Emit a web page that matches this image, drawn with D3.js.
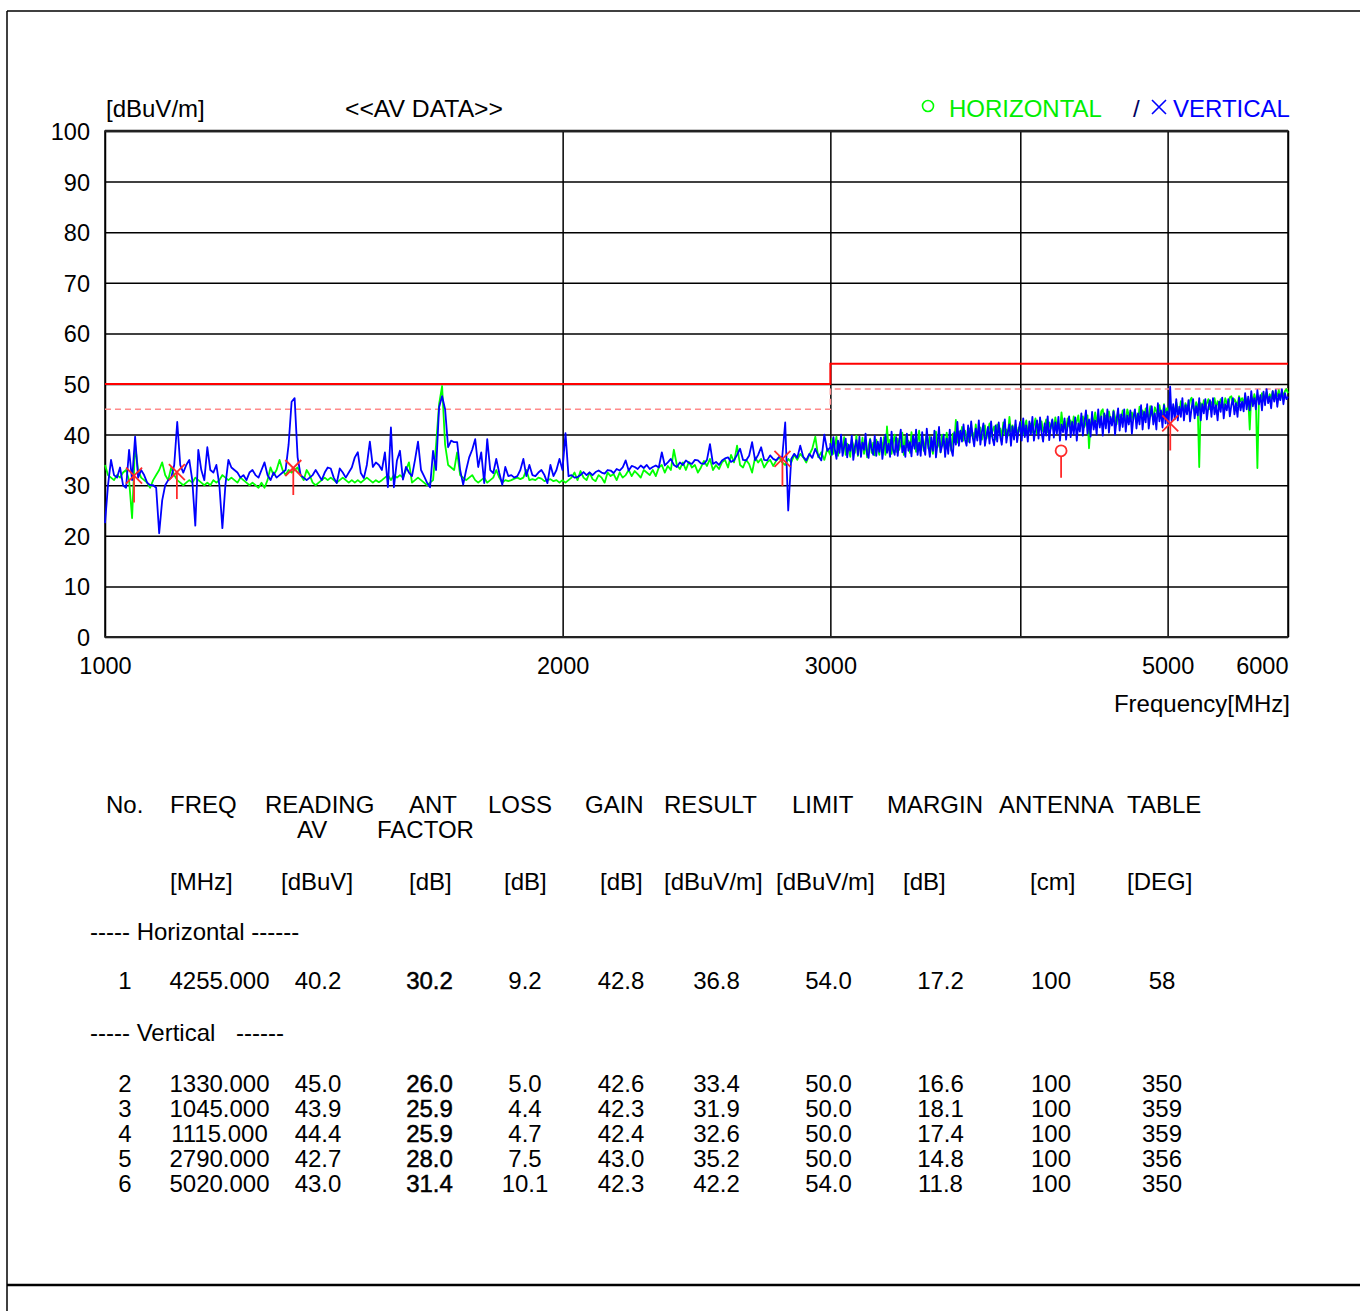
<!DOCTYPE html>
<html><head><meta charset="utf-8">
<script src="https://cdn.jsdelivr.net/npm/d3@7"></script>
<style>
html,body{margin:0;padding:0;background:#fff;}
svg{display:block;}
</style></head><body>
<svg id="chart" width="1360" height="1311"></svg>
<script>
// ---------------- DATA ----------------
const yTicks = [0,10,20,30,40,50,60,70,80,90,100];
const xTicks = [1000,2000,3000,4000,5000,6000];
const xTickLabels = ['1000','2000','3000','','5000','6000'];

// two sweeps: log-spaced points 1000-3000 MHz and 3000-6000 MHz (one value per point)
const lowSweep  = [1000, 3000];
const highSweep = [3000, 6000];

// HORIZONTAL (green) average levels, dBuV/m, 1000-3000 MHz
const horizontalLow = [
34,32,31.5,31,32,31.5,32.5,33,31,23.5,
38,33,31.5,31,30.5,29.5,31,32,33,34.5,
32,31,33.5,32,31,30.5,30,30.5,31,30.5,
31.5,31,30.5,30,30.5,30,31,30.5,31,32,
31.5,31,31.5,31,30.5,31.5,31,30.5,30,30.5,
30,29.5,30.5,29.5,31,33.5,32,33,35,33,
32,33,32.5,33,33.5,32,31,33,32,30.5,
30,30.5,31,31.5,31,31.5,31,30.5,31,31.5,
31,30.5,31,30.5,31,30.5,31,31.5,31,30.5,
31,30.6,31,31.5,32,31,32,31.5,32,31.5,
33,34.5,30.5,31,31.5,31,30.5,30,30.5,31,
38,46,49.6,38,34,33.5,33,36.5,32,31.5,
31,31.5,32,31,30.5,31,31.5,30.5,31,31.5,
33,31.5,30.5,31,30.8,31,31.3,31.5,31.2,31.5,
33,31,31.2,31,31.5,31.3,30.8,31,31.2,30.8,
31,30.5,31,30.5,31,31.5,32.5,31,32.8,31.5,
31,32.5,31.2,30.8,32,31.5,30.5,32.5,31.8,32.2,
31,32.5,31.5,32,33,31.8,32.8,32.2,31.5,33,
32.5,32,33,31.8,33.5,34,32.5,33.8,33,37,
34,33.2,34.5,33,34.6,33.5,34,32.5,33.5,34.8,
33.8,35.2,33,34,33.2,34.5,35,33.5,36,34.5,
37.8,34,33.5,35,34.2,32.5,35.5,34.5,35.2,33.5,
34.5,35,33.8,34.8,35.5,34.5,34,35.2,34.5,36,
35,36.2,35.5,34.5,36,37.2,39.6,35.5,36.5,35,
37.2,36
];
// HORIZONTAL (green), 3000-6000 MHz
const horizontalHigh = [
37.0,39.2,36.2,38.0,39.6,35.8,37.4,38.8,36.5,39.5,
36.0,38.2,37.2,35.6,39.0,37.8,36.4,39.8,35.8,38.0,
37.0,39.4,36.2,38.6,35.5,37.8,39.2,36.4,38.4,35.9,
39.0,37.2,36.0,38.8,37.4,39.5,36.0,41.6,37.5,39.0,
36.2,38.5,40.0,36.6,39.2,37.0,38.2,40.4,36.0,39.6,
37.5,38.8,36.4,40.5,37.8,39.0,36.6,38.5,40.8,37.0,
39.2,36.8,38.6,40.2,37.2,39.6,37.8,36.2,39.0,40.6,
37.5,38.8,36.5,40.0,38.2,37.0,40.4,37.6,38.8,36.8,
40.2,38.5,42.9,38.4,40.6,39.2,41.5,38.8,40.8,39.5,
38.6,41.2,39.8,40.4,38.8,42.0,39.4,40.6,41.4,39.0,
40.2,41.8,39.2,40.8,42.2,39.6,40.8,41.6,39.0,42.0,
40.4,41.2,39.5,42.4,40.0,41.0,39.8,43.5,40.6,41.8,
40.2,42.0,39.8,41.4,40.6,42.6,40.0,41.5,42.8,39.8,
41.2,42.2,40.4,41.8,43.2,40.2,42.0,41.0,42.6,40.6,
41.6,43.0,40.5,42.4,41.2,42.8,40.8,43.4,41.5,42.2,
40.6,44.4,41.8,42.6,40.8,43.2,41.6,42.8,41.0,43.6,
41.8,42.6,43.8,41.2,42.8,43.6,41.5,42.4,43.8,37.3,
42.0,43.6,41.8,44.4,42.6,43.2,41.9,44.6,45.0,42.4,
43.8,42.6,44.6,43.0,42.2,44.8,43.4,42.0,44.2,43.6,
42.8,44.8,43.2,42.6,45.0,43.8,42.6,44.4,43.0,44.6,
43.4,42.8,45.5,43.6,44.8,43.0,45.2,44.0,43.4,45.6,
44.0,43.2,45.4,44.6,43.6,45.8,44.2,43.8,46.0,44.4,
45.2,43.8,46.2,44.6,45.4,44.2,46.4,45.0,44.4,46.6,
45.0,44.6,46.2,45.4,44.8,46.8,47.3,45.2,44.8,46.4,
45.6,33.6,46.2,45.0,46.8,45.4,46.2,47.0,45.0,46.4,
45.8,47.2,45.2,46.6,45.6,47.0,46.0,45.4,47.2,46.2,
45.8,47.4,47.6,46.0,47.0,46.4,45.8,47.6,46.6,47.2,
46.0,47.8,46.4,47.0,41.0,47.6,46.2,48.0,46.8,33.4,
47.2,46.6,48.2,46.8,47.6,48.4,46.6,48.0,47.2,48.6,
46.8,48.2,47.6,48.8,47.0,48.4,47.8,48.6,49.0,48.2
];

// VERTICAL (blue) average levels, dBuV/m, 1000-3000 MHz
const verticalLow = [
22.5,30,35,32,31.5,33.5,30,29.5,37,31,
39.6,31.5,33,32,30.5,30,30,29.5,20.5,27,
30,31,31.5,34,42.5,34,32.5,34,35,31,
22,37,33,31,37.5,33,32.5,34,30,21.5,
30,35,33.5,33,32.5,31.5,32,31,32.5,33,
32,31.5,33,34.5,32,31,32.5,31.5,32,32.5,
33,38,46.5,47.2,35.5,32,31.5,31,31.5,32,
33,32,31,32.5,33.5,33.3,31.5,30.4,33.3,32.5,
31.5,32.5,33.5,35.5,36.5,32.4,31.4,34,38.6,33.6,
34.5,34,33,36.5,29.6,41.4,29.6,34.9,36.8,31.1,
33.6,32.5,31.8,35,38.6,33,31.8,30.5,29.6,36.8,
33,45.4,47.6,45,37.5,38.8,38.5,38.5,33,30.1,
33,35.5,37,39.1,33.6,36.5,30.4,39.1,33,32.4,
35.2,32.4,30.1,33.6,31.8,32,31.5,31.8,33,35.2,
31.8,34,32,31.8,32.5,33,32,30.4,34,31.8,
33,35.2,33,40.3,31.8,32,31.5,31.6,32,32.6,
32,32.5,32,32.6,32.9,32.5,32.3,33,32.9,32.4,
33.2,32.9,33.5,34.9,32.9,33.8,33.6,33.2,33.9,33.4,
34,33.2,33.6,33.9,33.5,36.5,33.9,34.5,35.2,34,
33.6,34.5,34,34.9,34.4,34.2,35,34.9,34.3,34.2,
35,38.1,34.2,34.6,34,34.9,35.3,35.5,34.6,34.9,
36,37.2,35,34.9,35.8,38.5,34.9,36,37.5,35,
34.9,35.9,35.2,34.9,35.6,35.5,42.4,25,35.2,36.2,
35.4,37.8,35.6,34.9,36.2,35.4,37.2,35.8,34.9,40,
36.8,37.5
];
// VERTICAL (blue), 3000-6000 MHz
const verticalHigh = [
38.2,36.0,39.5,37.0,35.2,38.8,36.4,40.0,35.8,37.6,
39.2,35.5,38.0,36.8,39.8,35.0,37.5,38.9,36.0,39.6,
35.6,38.4,37.0,40.2,36.2,35.4,39.0,37.2,36.0,39.8,
35.8,38.6,36.6,39.4,35.2,37.8,40.0,36.4,38.2,35.6,
40.6,37.0,36.0,39.5,35.8,38.8,41.0,36.5,37.8,35.6,
40.2,36.8,38.5,35.7,39.8,37.2,41.0,36.0,38.4,35.8,
40.5,37.5,36.0,41.2,38.0,35.6,39.5,36.8,40.8,35.5,
38.2,41.5,36.5,37.8,40.0,35.6,39.2,36.2,41.0,37.0,
35.8,40.5,38.0,42.5,37.8,40.8,38.6,42.0,39.0,37.8,
41.8,38.4,42.6,39.5,37.7,41.2,38.8,42.8,38.0,40.5,
42.2,37.8,39.8,41.5,38.2,42.6,39.2,37.9,41.8,38.6,
42.4,39.6,38.0,41.2,43.0,38.4,40.6,42.0,37.8,41.6,
39.0,42.8,38.5,40.8,42.5,38.8,43.2,39.5,41.8,38.6,
42.6,40.0,43.5,38.8,41.2,42.8,39.2,43.4,40.4,38.6,
42.2,39.8,43.6,38.9,41.5,43.0,39.4,42.4,40.2,43.5,
38.8,42.0,40.5,43.2,39.0,41.8,43.6,39.5,42.5,40.0,
43.4,38.8,42.2,40.6,44.2,39.8,42.5,44.8,40.2,43.0,
39.6,44.5,41.0,42.8,40.0,45.0,41.4,43.6,39.8,44.2,
41.2,45.0,40.4,43.5,41.8,44.6,40.0,43.0,45.2,40.8,
44.0,41.5,45.0,40.6,43.8,42.0,44.8,40.2,43.5,45.0,
41.2,44.2,42.0,45.8,41.0,44.5,42.4,46.0,41.2,43.8,
45.6,42.0,44.2,41.0,46.2,42.6,44.8,41.4,45.8,42.2,
44.6,41.8,49.5,42.6,46.0,43.0,47.0,42.8,45.5,43.5,
47.2,42.8,45.8,44.0,46.8,42.6,45.2,47.0,43.2,45.6,
43.8,47.2,42.8,46.0,44.2,47.0,43.0,45.5,46.8,43.5,
47.2,44.0,45.8,42.8,46.5,44.5,47.3,43.2,46.0,44.8,
47.0,43.6,45.8,47.2,44.0,46.2,43.5,47.3,44.8,46.5,
44.6,48.2,45.0,47.5,44.8,48.6,45.6,47.2,45.0,48.8,
46.0,47.8,44.8,48.5,45.8,49.0,46.2,47.5,45.2,48.6,
46.5,48.8,45.5,48.0,46.8,49.0,46.0,48.2,47.0,47.5
];

// limit lines
const limitFreq  = [1000, 3000, 3000, 6000];
const limitLevel = [50, 50, 54, 54];
const marginLevel = [45, 45, 49, 49];

// markers / table rows
const markerNo   = [1, 2, 3, 4, 5, 6];
const markerPol  = ['H','V','V','V','V','V'];
const markerFreq = [4255, 1330, 1045, 1115, 2790, 5020];
const tableFreq    = ['4255.000','1330.000','1045.000','1115.000','2790.000','5020.000'];
const tableReading = ['40.2','45.0','43.9','44.4','42.7','43.0'];
const tableAnt     = ['30.2','26.0','25.9','25.9','28.0','31.4'];
const tableLoss    = ['9.2','5.0','4.4','4.7','7.5','10.1'];
const tableGain    = ['42.8','42.6','42.3','42.4','43.0','42.3'];
const tableResult  = ['36.8','33.4','31.9','32.6','35.2','42.2'];
const tableLimit   = ['54.0','50.0','50.0','50.0','50.0','54.0'];
const tableMargin  = ['17.2','16.6','18.1','17.4','14.8','11.8'];
const tableAntenna = ['100','100','100','100','100','100'];
const tableDeg     = ['58','350','359','359','356','350'];

// ---------------- DRAW ----------------
const FONT = '"Liberation Sans", Arial, Helvetica, sans-serif';
const FS = 24, FST = 23.5;
const svg = d3.select('#chart');
const M = {left:105, right:1288, top:131, bottom:637};
const x = d3.scaleLog().domain([1000, 6000]).range([M.left, M.right]);
const y = d3.scaleLinear().domain([0, 100]).range([M.bottom, M.top]);

function txt(g, s, px, py, opt = {}) {
  return g.append('text').attr('x', px).attr('y', py)
    .attr('font-family', FONT).attr('font-size', opt.size || FS)
    .attr('fill', opt.fill || '#000')
    .attr('text-anchor', opt.anchor || 'start')
    .text(s);
}

// page border
svg.append('line').attr('x1',7).attr('y1',11).attr('x2',1360).attr('y2',11).attr('stroke','#000').attr('stroke-width',1.5);
svg.append('line').attr('x1',7).attr('y1',11).attr('x2',7).attr('y2',1311).attr('stroke','#000').attr('stroke-width',1.5);
svg.append('line').attr('x1',7).attr('y1',1285).attr('x2',1360).attr('y2',1285).attr('stroke','#000').attr('stroke-width',2.5);

// y grid + labels
const gy = svg.append('g').attr('transform', `translate(${M.left},0)`)
  .call(d3.axisLeft(y).tickValues(yTicks).tickSize(-(M.right - M.left)).tickPadding(15));
gy.select('.domain').remove();
gy.selectAll('line').attr('stroke', '#000').attr('stroke-width', 1.5);
gy.selectAll('text').attr('font-family', FONT).attr('font-size', FST).attr('fill', '#000').attr('dy', '0.36em');

// x grid + labels
const gx = svg.append('g').attr('transform', `translate(0,${M.bottom})`)
  .call(d3.axisBottom(x).tickValues(xTicks).tickFormat((d, i) => xTickLabels[i]).tickSize(-(M.bottom - M.top)));
gx.select('.domain').remove();
gx.selectAll('line').attr('stroke', '#000').attr('stroke-width', 1.5);
gx.selectAll('text').attr('font-family', FONT).attr('font-size', FST).attr('fill', '#000')
  .attr('y', 36.5).attr('dy', 0)
  .attr('text-anchor', d => d === 6000 ? 'end' : 'middle');

// frame
svg.append('rect').attr('x', M.left).attr('y', M.top).attr('width', M.right - M.left).attr('height', M.bottom - M.top)
  .attr('fill', 'none').attr('stroke', '#000').attr('stroke-width', 1.5);
svg.append('line').attr('x1', M.left).attr('x2', M.right).attr('y1', M.top).attr('y2', M.top).attr('stroke', '#222').attr('stroke-width', 2.5);
svg.append('line').attr('x1', M.left).attr('x2', M.right).attr('y1', M.bottom).attr('y2', M.bottom).attr('stroke', '#222').attr('stroke-width', 2);

// limit lines
const limLine = d3.line().x(d => x(d[0])).y(d => y(d[1]));
svg.append('path').attr('d', limLine(limitFreq.map((f, i) => [f, marginLevel[i]])))
  .attr('fill', 'none').attr('stroke', '#ff8a8a').attr('stroke-width', 1.5).attr('stroke-dasharray', '6,4');
svg.append('path').attr('d', limLine(limitFreq.map((f, i) => [f, limitLevel[i]])))
  .attr('fill', 'none').attr('stroke', '#ff0000').attr('stroke-width', 2);

// traces
function sweep(range, values) {
  const n = values.length, r = range[1] / range[0];
  return values.map((v, i) => [range[0] * Math.pow(r, i / (n - 1)), v]);
}
const traceLine = d3.line().x(d => x(d[0])).y(d => y(d[1]));
const hPts = sweep(lowSweep, horizontalLow).concat(sweep(highSweep, horizontalHigh));
const vPts = sweep(lowSweep, verticalLow).concat(sweep(highSweep, verticalHigh));
svg.append('path').attr('d', traceLine(hPts))
  .attr('fill', 'none').attr('stroke', '#00ff00').attr('stroke-width', 1.8).attr('stroke-linejoin', 'round');
svg.append('path').attr('d', traceLine(vPts))
  .attr('fill', 'none').attr('stroke', '#0000ff').attr('stroke-width', 1.8).attr('stroke-linejoin', 'round');

// markers
const gm = svg.append('g').attr('stroke', '#ff2a2a').attr('stroke-width', 1.8).attr('fill', 'none');
markerNo.forEach((no, i) => {
  const cx = x(markerFreq[i]), cy = y(+tableResult[i]);
  if (markerPol[i] === 'H') {
    gm.append('circle').attr('cx', cx).attr('cy', cy).attr('r', 5.5);
    gm.append('line').attr('x1', cx).attr('x2', cx).attr('y1', cy + 5.5).attr('y2', cy + 27);
  } else {
    gm.append('line').attr('x1', cx - 8).attr('y1', cy - 8).attr('x2', cx + 8).attr('y2', cy + 8);
    gm.append('line').attr('x1', cx - 8).attr('y1', cy + 8).attr('x2', cx + 8).attr('y2', cy - 8);
    gm.append('line').attr('x1', cx).attr('x2', cx).attr('y1', cy).attr('y2', cy + 27);
  }
});

// header texts
txt(svg, '[dBuV/m]', 106, 117);
txt(svg, '<<AV DATA>>', 345, 117).attr('textLength', 158).attr('lengthAdjust', 'spacingAndGlyphs');
svg.append('circle').attr('cx', 928).attr('cy', 106).attr('r', 5.5).attr('fill', 'none').attr('stroke', '#00ff00').attr('stroke-width', 1.6);
txt(svg, 'HORIZONTAL', 949, 117, {fill: '#00ee00'});
txt(svg, '/', 1133, 117, {fill: '#000060'});
// legend cross symbol
svg.append('path').attr('d', d3.path ? (() => { const p = d3.path(); p.moveTo(1152, 100); p.lineTo(1166, 114); p.moveTo(1152, 114); p.lineTo(1166, 100); return p.toString(); })() : '')
  .attr('stroke', '#0000ff').attr('stroke-width', 1.6).attr('fill', 'none');
txt(svg, 'VERTICAL', 1173, 117, {fill: '#0000ff'});
txt(svg, 'Frequency[MHz]', 1290, 712, {anchor: 'end'});

// table
const gt = svg.append('g');
const headLine1 = [['No.',106],['FREQ',170],['READING',265],['ANT',409],['LOSS',488],['GAIN',585],['RESULT',664],['LIMIT',792],['MARGIN',887],['ANTENNA',999],['TABLE',1127]];
const headLine2 = [['AV',297],['FACTOR',377]];
const unitLine  = [['[MHz]',170],['[dBuV]',281],['[dB]',409],['[dB]',504],['[dB]',600],['[dBuV/m]',664],['[dBuV/m]',776],['[dB]',903],['[cm]',1030],['[DEG]',1127]];
headLine1.forEach(([s, px]) => txt(gt, s, px, 812.5));
headLine2.forEach(([s, px]) => txt(gt, s, px, 837.5));
unitLine.forEach(([s, px]) => txt(gt, s, px, 889.5));
txt(gt, '----- Horizontal ------', 90, 939.5);
txt(gt, '----- Vertical', 90, 1040.5);
txt(gt, '------', 236, 1040.5);

const colCenters = [125, 219.5, 318, 429.5, 525, 621, 716.5, 828.5, 940.5, 1051, 1162];
const rowBase = [988.5, 1091.5, 1116.5, 1141.5, 1166.5, 1191.5];
markerNo.forEach((no, r) => {
  const cells = [String(no), tableFreq[r], tableReading[r], tableAnt[r], tableLoss[r], tableGain[r],
                 tableResult[r], tableLimit[r], tableMargin[r], tableAntenna[r], tableDeg[r]];
  cells.forEach((s, c) => {
    const t = txt(gt, s, colCenters[c], rowBase[r], {anchor: 'middle'});
    if (c === 3) t.attr('stroke', '#000').attr('stroke-width', 0.5);
  });
});
</script>
</body></html>
